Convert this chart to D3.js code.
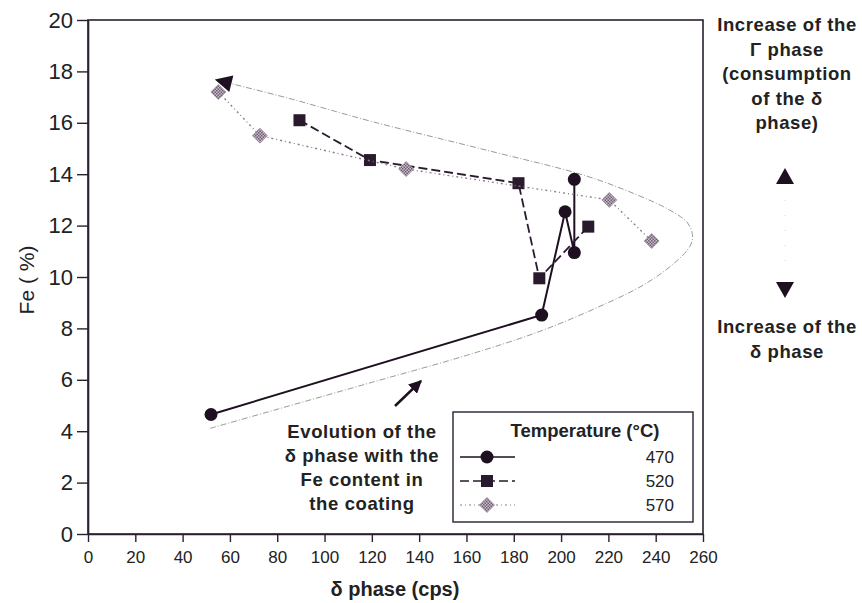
<!DOCTYPE html>
<html>
<head>
<meta charset="utf-8">
<script src="https://cdn.jsdelivr.net/npm/d3@7"></script>
<style>
  html, body { margin: 0; padding: 0; background: #fff; }
  svg { display: block; }
  text { font-family: "Liberation Sans", Arial, sans-serif; fill: #222; }
  .bold { font-weight: bold; }
</style>
</head>
<body>
<svg id="chart" width="862" height="603"></svg>
<script>
// Fe content vs delta-phase intensity, three galvannealing temperatures
const temperatures = ["470", "520", "570"];

const delta470 = [52, 191.8, 201.7, 205.6, 205.6];
const fe470    = [4.65, 8.52, 12.54, 10.95, 13.8];

const delta520 = [89.4, 119.2, 182, 190.8, 211.5];
const fe520    = [16.1, 14.55, 13.65, 9.95, 11.96];

const delta570 = [55.1, 72.7, 134.5, 220.4, 238.3];
const fe570    = [17.2, 15.5, 14.2, 13.0, 11.4];

// guide curve: evolution of the delta phase with Fe content
const guideDelta = [51.6, 120, 160, 190, 215, 235, 248, 254.5, 255.6, 253.5, 246, 232, 210, 170, 120, 85, 55];
const guideFe    = [4.11, 5.9, 6.95, 7.85, 8.8, 9.7, 10.55, 11.2, 11.6, 12.1, 12.6, 13.2, 13.95, 14.9, 16.05, 16.95, 17.65];

const xTicks = d3.range(0, 261, 20);
const yTicks = d3.range(0, 21, 2);

const svg = d3.select("#chart");
const x = d3.scaleLinear().domain([0, 260]).range([88, 703]);
const y = d3.scaleLinear().domain([0, 20]).range([534, 20]);

// arrowhead markers
const defs = svg.append("defs");
defs.append("marker")
  .attr("id", "head")
  .attr("viewBox", "0 0 10 10")
  .attr("refX", 8).attr("refY", 5)
  .attr("markerUnits", "userSpaceOnUse")
  .attr("markerWidth", 19).attr("markerHeight", 17)
  .attr("orient", "auto")
  .append("path").attr("d", "M0,0 L10,5 L0,10 Z").attr("fill", "#1e1020");
defs.append("marker")
  .attr("id", "head2")
  .attr("viewBox", "0 0 10 10")
  .attr("refX", 9).attr("refY", 5)
  .attr("markerUnits", "userSpaceOnUse")
  .attr("markerWidth", 13).attr("markerHeight", 13)
  .attr("orient", "auto")
  .append("path").attr("d", "M0,0 L10,5 L0,10 Z").attr("fill", "#1e1020");

// checkered fill for the 570 diamonds
const pat = defs.append("pattern")
  .attr("id", "check").attr("width", 3).attr("height", 3)
  .attr("patternUnits", "userSpaceOnUse");
pat.append("rect").attr("width", 3).attr("height", 3).attr("fill", "#c8bcc8");
pat.append("rect").attr("width", 1.5).attr("height", 1.5).attr("fill", "#6e5e72");
pat.append("rect").attr("x", 1.5).attr("y", 1.5).attr("width", 1.5).attr("height", 1.5).attr("fill", "#6e5e72");

// plot frame
svg.append("rect")
  .attr("x", x(0)).attr("y", y(20))
  .attr("width", x(260) - x(0)).attr("height", y(0) - y(20))
  .attr("fill", "none").attr("stroke", "#2a2030").attr("stroke-width", 1.6);

// axes
const yAxis = svg.append("g")
  .attr("transform", `translate(${x(0)},0)`)
  .call(d3.axisLeft(y).tickValues(yTicks).tickSize(11).tickPadding(4).tickSizeOuter(0));
yAxis.select(".domain").attr("stroke", "#2a2030").attr("stroke-width", 1.6);
yAxis.selectAll(".tick line").attr("stroke", "#2a2030").attr("stroke-width", 1.4);
yAxis.selectAll(".tick text")
  .style("font-family", "'Liberation Sans', Arial, sans-serif")
  .style("font-size", "22px").attr("fill", "#222");

const xAxis = svg.append("g")
  .attr("transform", `translate(0,${y(0)})`)
  .call(d3.axisBottom(x).tickValues(xTicks).tickSize(8).tickPadding(9).tickSizeOuter(0));
xAxis.select(".domain").attr("stroke", "#2a2030").attr("stroke-width", 1.6);
xAxis.selectAll(".tick line").attr("stroke", "#2a2030").attr("stroke-width", 1.4);
xAxis.selectAll(".tick text")
  .style("font-family", "'Liberation Sans', Arial, sans-serif")
  .style("font-size", "17px").attr("fill", "#222");

// axis titles
svg.append("text").attr("class", "bold")
  .attr("x", 395).attr("y", 596).attr("text-anchor", "middle")
  .style("font-size", "20px").text("δ phase (cps)");
svg.append("text")
  .attr("transform", "translate(34,280) rotate(-90)")
  .attr("text-anchor", "middle")
  .style("font-size", "21px").text("Fe ( %)");

// guide curve with arrowhead at the Fe-rich end
const guide = guideDelta.map((d, i) => [x(d), y(guideFe[i])]);
svg.append("path")
  .attr("d", d3.line().curve(d3.curveCatmullRom.alpha(0.5))(guide))
  .attr("fill", "none").attr("stroke", "#9a9a9a").attr("stroke-width", 1)
  .attr("stroke-dasharray", "6,2,1,2")
  .attr("marker-end", "url(#head)");

// series
const series = [
  { key: temperatures[0], xs: delta470, ys: fe470, dash: null, color: "#1e1020", width: 2, shape: "circle" },
  { key: temperatures[1], xs: delta520, ys: fe520, dash: "9,4", color: "#2a1a2e", width: 1.8, shape: "square" },
  { key: temperatures[2], xs: delta570, ys: fe570, dash: "2,3,1,3", color: "#8a7e8a", width: 1.4, shape: "diamond" }
];

const line = d3.line().x(d => x(d[0])).y(d => y(d[1]));

function drawMarker(g, shape, cx, cy) {
  if (shape === "circle") {
    g.append("circle").attr("cx", cx).attr("cy", cy).attr("r", 6.5).attr("fill", "#1e1020");
  } else if (shape === "square") {
    g.append("rect").attr("x", cx - 6).attr("y", cy - 6).attr("width", 12).attr("height", 12).attr("fill", "#2a1a2e");
  } else {
    g.append("path")
      .attr("d", `M${cx},${cy - 7.5} L${cx + 7.5},${cy} L${cx},${cy + 7.5} L${cx - 7.5},${cy} Z`)
      .attr("fill", "url(#check)").attr("stroke", "#9b8b9b").attr("stroke-width", 0.8);
  }
}

series.forEach(s => {
  const pts = s.xs.map((d, i) => [d, s.ys[i]]);
  svg.append("path")
    .attr("d", line(pts))
    .attr("fill", "none").attr("stroke", s.color).attr("stroke-width", s.width)
    .attr("stroke-dasharray", s.dash);
  const g = svg.append("g");
  pts.forEach(p => drawMarker(g, s.shape, x(p[0]), y(p[1])));
});

// annotation: evolution of the delta phase
svg.append("line")
  .attr("x1", 395).attr("y1", 406).attr("x2", 421).attr("y2", 381)
  .attr("stroke", "#1e1020").attr("stroke-width", 2.5)
  .attr("marker-end", "url(#head2)");
const evo = ["Evolution of the", "δ phase with the", "Fe content in", "the coating"];
svg.append("g").selectAll("text").data(evo).join("text")
  .attr("class", "bold")
  .attr("x", 362).attr("y", (d, i) => 438 + i * 24)
  .attr("text-anchor", "middle").style("font-size", "18.5px")
  .style("letter-spacing", "0.6px")
  .text(d => d);

// legend
const lg = svg.append("g");
lg.append("rect").attr("x", 453).attr("y", 412).attr("width", 240).attr("height", 110)
  .attr("fill", "#fff").attr("stroke", "#2a2030").attr("stroke-width", 1.4);
lg.append("text").attr("class", "bold")
  .attr("x", 585).attr("y", 437).attr("text-anchor", "middle")
  .style("font-size", "18.5px").text("Temperature (°C)");
series.forEach((s, i) => {
  const ry = 457 + i * 24;
  lg.append("line").attr("x1", 460).attr("x2", 515).attr("y1", ry).attr("y2", ry)
    .attr("stroke", s.color).attr("stroke-width", s.width > 1.5 ? 1.6 : 1.2)
    .attr("stroke-dasharray", s.dash);
  drawMarker(lg, s.shape, 487, ry);
  lg.append("text").attr("x", 674).attr("y", ry + 6).attr("text-anchor", "end")
    .style("font-size", "17px").text(s.key);
});

// side notes
const upNote = ["Increase of the", "Γ phase", "(consumption", "of the δ", "phase)"];
const downNote = ["Increase of the", "δ phase"];
svg.append("g").selectAll("text").data(upNote).join("text")
  .attr("class", "bold").attr("x", 787).attr("y", (d, i) => 31 + i * 24.5)
  .attr("text-anchor", "middle").style("font-size", "18.5px")
  .style("letter-spacing", "0.6px").text(d => d);
svg.append("g").selectAll("text").data(downNote).join("text")
  .attr("class", "bold").attr("x", 787).attr("y", (d, i) => 333 + i * 25)
  .attr("text-anchor", "middle").style("font-size", "18.5px")
  .style("letter-spacing", "0.6px").text(d => d);
svg.append("path").attr("d", "M776,184 L785,168 L794,184 Z").attr("fill", "#1e1020");
svg.append("path").attr("d", "M776,282 L785,298 L794,282 Z").attr("fill", "#1e1020");
svg.append("line").attr("x1", 785).attr("x2", 785).attr("y1", 200).attr("y2", 272)
  .attr("stroke", "#d8d8d8").attr("stroke-width", 1).attr("stroke-dasharray", "1,14");
</script>
</body>
</html>
